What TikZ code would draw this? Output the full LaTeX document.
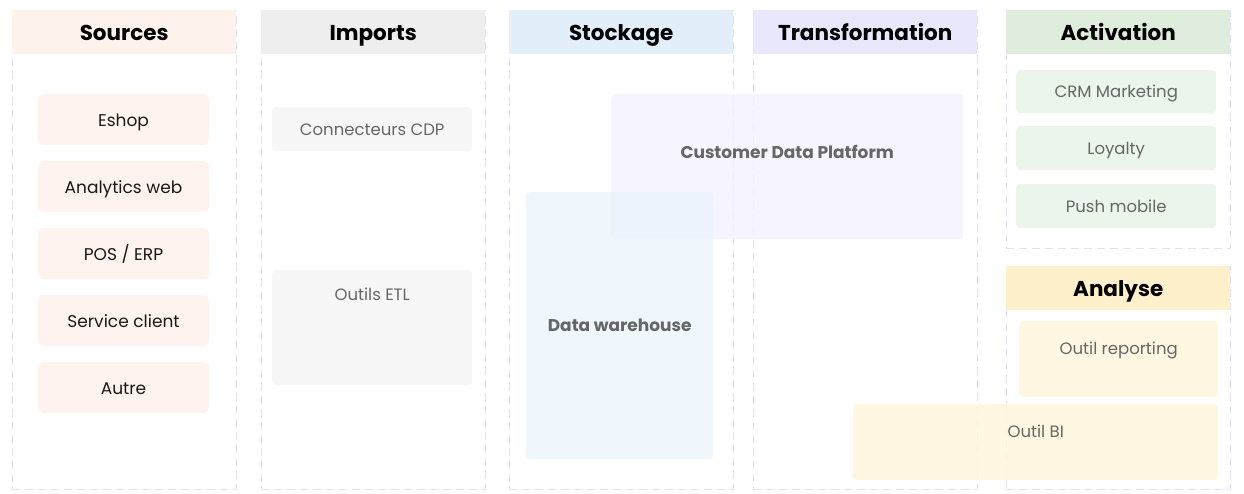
\documentclass[tikz,border=0pt]{standalone}
\usepackage{fontspec}
\setmainfont{Poppins}
\usetikzlibrary{positioning}
\definecolor{srchead}{HTML}{FEF2EC}
\definecolor{srcfill}{HTML}{FEF3EE}
\definecolor{imphead}{HTML}{EEEEEE}
\definecolor{impfill}{HTML}{F6F6F6}
\definecolor{stohead}{HTML}{E2EEFA}
\definecolor{stofill}{HTML}{ECF4FC}
\definecolor{trahead}{HTML}{E9E7FC}
\definecolor{trafill}{HTML}{F4F2FE}
\definecolor{acthead}{HTML}{DFEEDC}
\definecolor{actfill}{HTML}{E8F3E7}
\definecolor{anahead}{HTML}{FFF0CC}
\definecolor{anafill}{HTML}{FFF6DD}
\definecolor{txtgray}{HTML}{666666}
\definecolor{dashline}{HTML}{E4E1F6}

\begin{document}
\begin{tikzpicture}[x=1pt, y=-1pt, node distance=15.5pt,
  col/.style={draw=dashline, dash pattern=on 8pt off 5pt, line width=0.8pt, anchor=north west, minimum width=224pt, inner sep=0pt},
  colhead/.style={fill=#1, anchor=north west, minimum width=224pt, minimum height=44pt, inner sep=0pt, text height=17pt, text depth=0pt, font=\fontsize{21.5}{24}\selectfont\bfseries},
  srcitem/.style={fill=srcfill, rounded corners=5pt, minimum width=171pt, minimum height=51pt, inner sep=0pt, text height=14pt, text depth=0pt, font=\fontsize{17}{20}\selectfont, text=black!90},
  tool/.style={fill=#1, fill opacity=0.85, text opacity=1, rounded corners=4pt, anchor=north west, inner sep=0pt, text height=12.2pt, text depth=0pt, font=\fontsize{16.5}{20}\selectfont, text=txtgray},
  lab/.style={anchor=center, inner sep=0pt, text height=12.2pt, text depth=0pt, font=\fontsize{16.5}{20}\selectfont, text=txtgray},
  blab/.style={lab, font=\fontsize{17}{20}\selectfont\bfseries}
]
\useasboundingbox (0,0) rectangle (1244,494);
% columns
\node[col, minimum height=479pt] (colsrc) at (12,10) {};
\node[col, minimum height=479pt] (colimp) at (261,10) {};
\node[col, minimum height=479pt] (colsto) at (509,10) {};
\node[col, minimum height=479pt] (coltra) at (753,10) {};
\node[col, minimum height=238pt] (colact) at (1006,10) {};
\node[col, minimum height=223pt] (colana) at (1006,266) {};
\node[colhead=srchead] (hsrc) at (12,10) {Sources};
\node[colhead=imphead] (himp) at (261,10) {Imports};
\node[colhead=stohead] (hsto) at (509,10) {Stockage};
\node[colhead=trahead] (htra) at (753,10) {Transformation};
\node[colhead=acthead] (hact) at (1006,10) {Activation};
\node[colhead=anahead] (hana) at (1006,266) {Analyse};
% sources
\node[srcitem, anchor=north] (eshop) at (123.5,94) {Eshop};
\node[srcitem, below=of eshop] (web) {Analytics web};
\node[srcitem, below=of web] (pos) {POS / ERP};
\node[srcitem, below=of pos] (sav) {Service client};
\node[srcitem, below=of sav] (autre) {Autre};
% imports
\node[tool=impfill, minimum width=200pt, minimum height=44pt] (conn) at (272,107) {Connecteurs CDP};
\node[tool=impfill, minimum width=200pt, minimum height=115pt, label={[lab, yshift=-24pt]north:Outils ETL}] (etl) at (272,270) {};
% stockage / transformation
\node[tool=trafill, minimum width=352pt, minimum height=145pt, label={[blab, yshift=-58pt]north:Customer Data Platform}] (cdp) at (611,94) {};
\node[tool=stofill, minimum width=187pt, minimum height=267pt, font=\fontsize{17}{20}\selectfont\bfseries] (dwh) at (526,192) {Data warehouse};
% activation
\node[tool=actfill, minimum width=200pt, minimum height=43pt] (crm) at (1016,70) {CRM Marketing};
\node[tool=actfill, minimum width=200pt, minimum height=44pt] (loyalty) at (1016,126) {Loyalty};
\node[tool=actfill, minimum width=200pt, minimum height=44pt] (push) at (1016,184) {Push mobile};
% analyse
\node[tool=anafill, minimum width=199pt, minimum height=76pt, label={[lab, yshift=-27pt]north:Outil reporting}] (report) at (1019,321) {};
\node[tool=anafill, minimum width=365pt, minimum height=76pt, label={[lab, yshift=-27pt]north:Outil BI}] (bi) at (853,404) {};
\end{tikzpicture}
\end{document}
